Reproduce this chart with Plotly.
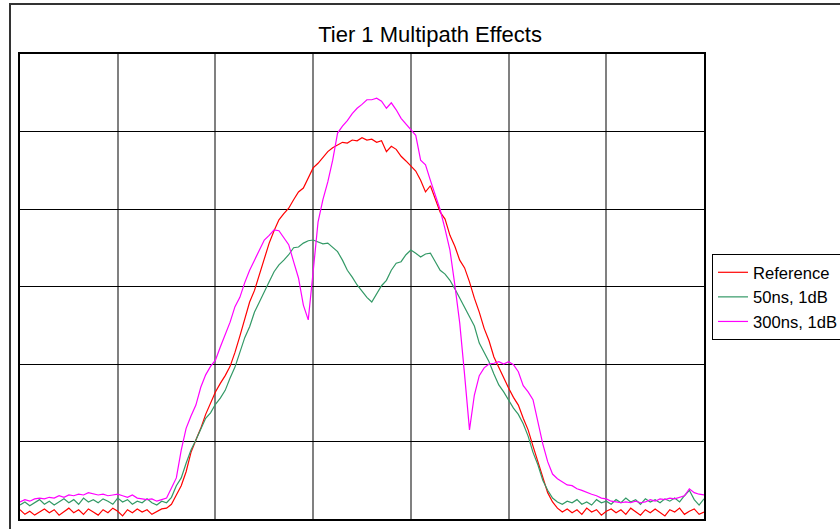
import numpy as np
import plotly.graph_objects as go

# Frequency axis (MHz, 7 MHz span), 141 samples
freq = np.round(np.arange(141) * 0.05, 2)

series_names = ["Reference", "50ns, 1dB", "300ns, 1dB"]
series_colors = ["#ff0000", "#339966", "#ff00ff"]

# Levels in dB (10 dB / division)
reference_db = [
    -58.8, -59.4, -59.0, -59.5, -59.1, -58.7, -59.2, -58.8, -59.5, -59.0,
    -58.6, -59.2, -58.8, -59.4, -58.7, -59.1, -59.5, -58.8, -59.2, -58.6,
    -59.0, -59.6, -58.8, -59.2, -58.7, -59.1, -58.8, -59.4, -59.0, -58.7,
    -58.6, -58.1, -56.9, -55.7, -53.9, -51.4, -49.8, -48.3, -46.5, -45.0,
    -43.6, -42.5, -41.5, -40.3, -38.5, -36.4, -34.3, -32.0, -30.5, -28.5,
    -26.3, -24.4, -22.8, -21.4, -20.6, -19.9, -18.8, -17.8, -17.3, -16.0,
    -14.7, -14.1, -13.3, -12.6, -12.1, -11.7, -11.4, -11.5, -11.1, -11.2,
    -10.8, -11.1, -11.0, -11.4, -11.2, -12.6, -11.9, -12.3, -13.2, -13.8,
    -14.5, -15.1, -16.3, -17.8, -17.0, -18.8, -20.4, -21.3, -23.4, -24.8,
    -26.6, -27.6, -29.4, -31.5, -33.3, -35.4, -37.0, -39.1, -40.5, -41.8,
    -43.1, -44.3, -45.3, -47.0, -48.5, -50.6, -52.6, -54.7, -56.6, -57.8,
    -58.6, -59.1, -58.7, -59.2, -58.8, -59.4, -58.6, -59.1, -58.8, -59.5,
    -59.0, -58.7, -59.2, -58.8, -59.4, -58.6, -59.1, -59.5, -58.8, -59.2,
    -58.7, -59.1, -59.6, -58.8, -59.1, -58.6, -59.4, -59.0, -58.7, -59.4,
    -59.1,
]

ns50_db = [
    -58.2, -57.8, -58.3, -57.9, -57.5, -58.1, -57.7, -58.2, -57.8, -57.4,
    -57.9, -57.5, -58.1, -57.3, -57.8, -57.5, -57.9, -57.4, -57.7, -58.1,
    -57.3, -57.8, -57.5, -58.1, -57.7, -57.9, -57.4, -57.9, -58.2, -57.7,
    -57.9, -57.2, -55.7, -54.7, -52.8, -51.1, -49.8, -48.3, -47.0, -46.3,
    -45.2, -44.4, -43.4, -41.8, -40.4, -38.5, -36.6, -35.2, -33.3, -32.0,
    -30.6, -29.4, -28.1, -27.2, -26.6, -25.9, -25.0, -24.9, -24.4, -24.1,
    -24.0, -24.3, -24.5, -24.4, -24.9, -25.5, -26.6, -27.9, -28.8, -29.8,
    -30.6, -31.4, -32.0, -31.0, -29.9, -29.2, -27.9, -27.0, -26.8, -25.9,
    -25.3, -25.7, -26.2, -25.8, -25.7, -26.8, -27.9, -28.4, -29.2, -30.3,
    -31.5, -32.5, -33.8, -35.1, -37.3, -38.5, -39.7, -41.3, -42.7, -43.6,
    -44.6, -45.7, -46.5, -47.7, -49.3, -51.4, -53.0, -55.0, -56.3, -57.3,
    -57.8, -58.1, -57.7, -57.9, -57.5, -58.1, -57.8, -58.2, -57.5, -57.9,
    -57.7, -58.1, -57.5, -57.9, -57.3, -57.8, -57.5, -58.1, -57.4, -57.8,
    -57.5, -57.9, -57.4, -57.7, -57.3, -57.8, -57.0, -56.3, -57.5, -58.2,
    -57.4,
]

ns300_db = [
    -57.8, -57.5, -57.7, -57.4, -57.3, -57.4, -57.2, -57.3, -57.0, -57.2,
    -56.9, -57.0, -56.8, -56.9, -56.6, -56.8, -56.9, -56.8, -57.0, -56.9,
    -56.8, -57.0, -57.2, -56.9, -57.3, -57.4, -57.5, -57.4, -57.7, -57.5,
    -57.3, -56.0, -54.7, -51.1, -48.3, -46.7, -45.3, -43.0, -41.4, -40.3,
    -39.5, -37.8, -36.3, -34.6, -32.6, -31.4, -29.5, -27.9, -26.6, -25.2,
    -24.0, -23.4, -22.7, -22.8, -23.7, -24.6, -26.8, -28.9, -32.4, -34.3,
    -28.1, -21.7, -18.8, -16.5, -13.7, -10.2, -9.3, -8.6, -7.7, -7.0,
    -6.5, -5.9, -5.9, -5.7, -6.1, -7.0, -6.3, -7.2, -8.3, -9.0,
    -9.7, -10.5, -13.7, -14.3, -16.3, -18.1, -20.1, -22.6, -25.3, -29.8,
    -34.7, -41.4, -48.5, -44.0, -41.5, -40.5, -40.0, -39.9, -39.7, -40.0,
    -39.7, -40.1, -41.0, -42.8, -43.6, -44.6, -47.5, -50.3, -52.6, -54.2,
    -54.8, -55.2, -55.6, -55.7, -56.1, -56.3, -56.6, -56.8, -57.0, -57.3,
    -57.4, -57.7, -57.8, -57.9, -57.8, -57.9, -57.7, -57.9, -57.8, -57.5,
    -57.7, -57.4, -57.5, -57.3, -57.4, -57.2, -57.0, -56.1, -56.6, -56.8,
    -56.9,
]

series_values = [reference_db, ns50_db, ns300_db]

fig = go.Figure()
for name, color, vals in zip(series_names, series_colors, series_values):
    fig.add_trace(go.Scatter(
        x=freq, y=vals, mode="lines", name=name,
        line=dict(color=color, width=1.2),
    ))

W, H = 840, 529
L, R, T, B = 20, 136, 54, 10
pw, ph = W - L - R, H - T - B

def px2paper_x(px):
    return (px - L) / pw

def py2paper_y(py):
    return (H - B - py) / ph

fig.update_layout(
    width=W, height=H,
    margin=dict(l=L, r=R, t=T, b=B, pad=0, autoexpand=False),
    paper_bgcolor="white", plot_bgcolor="white",
    font=dict(family="Liberation Sans, Arial, sans-serif", color="black"),
    title=dict(text="Tier 1 Multipath Effects", x=0.512, xref="container",
               xanchor="center", y=1 - 34 / H, yref="container", yanchor="middle",
               font=dict(size=22, color="black")),
    xaxis=dict(range=[0, 7], dtick=1, tick0=0, showticklabels=False, ticks="",
               showgrid=True, gridcolor="#808080", gridwidth=1.5,
               zeroline=False, showline=True, linecolor="black", linewidth=2,
               mirror=True, fixedrange=True),
    yaxis=dict(range=[-60, 0], dtick=10, tick0=0, showticklabels=False, ticks="",
               showgrid=True, gridcolor="black", gridwidth=1,
               zeroline=False, showline=True, linecolor="black", linewidth=2,
               mirror=True, fixedrange=True),
    legend=dict(x=712 / W, y=1 - 254 / H, xref="container", yref="container",
                xanchor="left", yanchor="top",
                bordercolor="black", borderwidth=1, bgcolor="white",
                font=dict(size=16.6, color="black")),
    showlegend=True,
    shapes=[dict(type="rect", xref="paper", yref="paper",
                 x0=px2paper_x(10), x1=px2paper_x(860),
                 y0=py2paper_y(540), y1=py2paper_y(4),
                 line=dict(color="#333333", width=2), fillcolor="rgba(0,0,0,0)",
                 layer="below")],
)

fig.write_html("out.html")
